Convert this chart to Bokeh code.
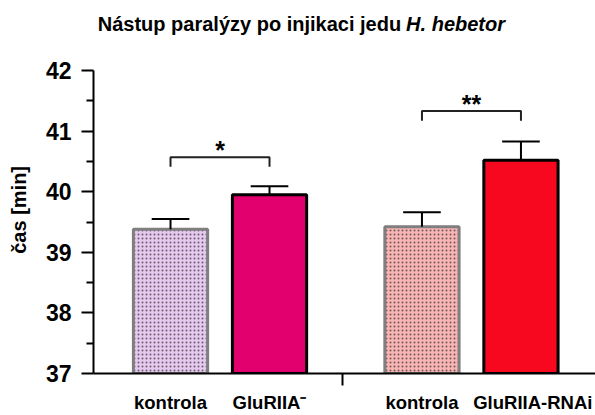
from bokeh.plotting import figure
from bokeh.models import Range1d, FixedTicker, Label, LinearAxis, ColumnDataSource
from bokeh.embed import file_html
from bokeh.resources import INLINE
from bokeh.core.properties import value
import math

# ---- data ----
categories = ["kontrola", "GluRIIA\u207b", "kontrola", "GluRIIA-RNAi"]
means = [39.38, 39.95, 39.42, 40.52]
errors = [0.17, 0.14, 0.24, 0.31]
y_ticks = [37, 38, 39, 40, 41, 42]
sig_labels = ["*", "**"]
sig_pairs = [(0, 1), (2, 3)]

# ---- layout / style ----
x_pos = [1.0, 2.0, 3.54, 4.54]
label_dx = [0, 0, 0, 0.12]
group_split = 2.74
sig_levels = [40.57, 41.33]
fills = ["#E6C8F0", "#E2006E", "#F9B4B4", "#F8081F"]
borders = ["#7F7F7F", "#000000", "#7F7F7F", "#000000"]
hatches = ["dot", "blank", "dot", "blank"]
FONT = "Liberation Sans"

p = figure(width=595, height=415, output_backend="svg", toolbar_location=None,
           x_range=Range1d(0.222, 5.293), y_range=Range1d(37, 42),
           min_border_left=93, min_border_right=0, min_border_top=70, min_border_bottom=41)
p.outline_line_color = None
p.grid.visible = False
p.background_fill_color = "white"

src = ColumnDataSource(dict(x=x_pos, top=means, fill=fills, line=borders, hatch=hatches,
                            err_top=[m + e for m, e in zip(means, errors)]))
p.vbar(x="x", top="top", bottom=37, width=0.75, source=src, fill_color="fill",
       line_color="line", line_width=3, hatch_pattern="hatch", hatch_color="#333333",
       hatch_alpha=0.7, hatch_scale=4, hatch_weight=1)

# error bars (upper only)
p.segment(x0="x", y0="top", x1="x", y1="err_top", source=src, line_color="black", line_width=2)
p.segment(x0=[x - 0.19 for x in x_pos], y0=src.data["err_top"],
          x1=[x + 0.19 for x in x_pos], y1=src.data["err_top"], line_color="black", line_width=2)

# significance brackets
for (a, b), lvl, s in zip(sig_pairs, sig_levels, sig_labels):
    p.line([x_pos[a], x_pos[a], x_pos[b], x_pos[b]], [lvl - 0.16, lvl, lvl, lvl - 0.16],
           line_color="#222222", line_width=2)
    p.text(x=[(x_pos[a] + x_pos[b]) / 2], y=[lvl + 0.12], text=[s], text_align="center",
           text_baseline="alphabetic", text_font=value(FONT), text_font_style="bold",
           text_font_size="25px", text_color="black")

# axes
ya = p.yaxis[0]
ya.ticker = FixedTicker(ticks=y_ticks, minor_ticks=[t + 0.5 for t in y_ticks[:-1]])
ya.axis_line_width = 2
ya.major_tick_line_width = 2
ya.minor_tick_line_width = 2
ya.major_tick_out = 12
ya.major_tick_in = 0
ya.minor_tick_out = 7
ya.minor_tick_in = 0
ya.major_label_standoff = 10
ya.major_label_text_font = FONT
ya.major_label_text_font_style = "bold"
ya.major_label_text_font_size = "23px"
ya.major_label_text_color = "black"

xa = p.xaxis[0]
xa.ticker = FixedTicker(ticks=[group_split])
xa.major_label_overrides = {group_split: ""}
xa.axis_line_width = 2
xa.major_tick_line_width = 2
xa.major_tick_out = 12
xa.major_tick_in = 0
xa.minor_tick_line_color = None
xa.major_label_standoff = 0
xa.major_label_text_font_size = "1px"

# category labels on a second (line-less) bottom axis
label_pos = [x + d for x, d in zip(x_pos, label_dx)]
cat_axis = LinearAxis(ticker=FixedTicker(ticks=label_pos),
                      major_label_overrides={lp: c for lp, c in zip(label_pos, categories)})
cat_axis.axis_line_color = None
cat_axis.major_tick_line_color = None
cat_axis.minor_tick_line_color = None
cat_axis.major_tick_out = 0
cat_axis.major_tick_in = 0
cat_axis.minor_tick_out = 0
cat_axis.minor_tick_in = 0
cat_axis.major_label_standoff = 6
cat_axis.major_label_text_font = FONT
cat_axis.major_label_text_font_style = "bold"
cat_axis.major_label_text_font_size = "18.5px"
cat_axis.major_label_text_color = "black"
p.add_layout(cat_axis, "below")

# y axis label
p.add_layout(Label(x=-0.53, y=39.70, text="\u010das [min]", angle=math.pi / 2,
                   text_align="center", text_baseline="middle", text_font=FONT,
                   text_font_style="bold", text_font_size="20px", text_color="black"), "left")

# title
p.add_layout(Label(x=3.33, y=42.76, text="N\u00e1stup paral\u00fdzy po injikaci jedu",
                   text_align="right", text_baseline="alphabetic", text_font=FONT,
                   text_font_style="bold", text_font_size="20px", text_color="black"), "above")
p.add_layout(Label(x=3.38, y=42.76, text="H. hebetor",
                   text_align="left", text_baseline="alphabetic", text_font=FONT,
                   text_font_style="bold italic", text_font_size="20px", text_color="black"), "above")

open("out.html", "w").write(file_html(p, INLINE))
